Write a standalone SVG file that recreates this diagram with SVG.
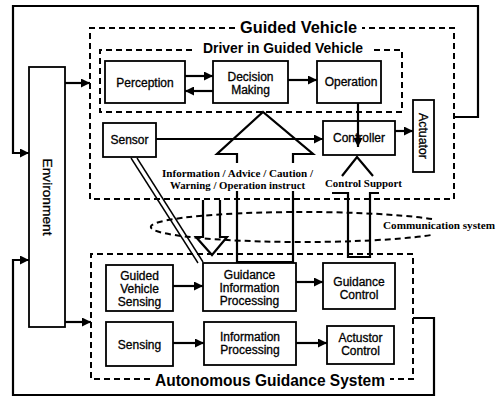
<svg xmlns="http://www.w3.org/2000/svg" width="501" height="397" viewBox="0 0 501 397">
<defs>
<marker id="ah" markerUnits="userSpaceOnUse" markerWidth="10" markerHeight="9" refX="9" refY="4.5" orient="auto">
<path d="M0,0 L9,4.5 L0,9 z" fill="#000"/>
</marker>
<style>
.box{fill:#fff;stroke:#000;stroke-width:1.8}
.dash{fill:none;stroke:#000;stroke-width:2;stroke-dasharray:6,4}
.ln{fill:none;stroke:#000;stroke-width:2.2}
.thin{fill:none;stroke:#000;stroke-width:1.4}
.lbl{font-family:"Liberation Sans",Arial,sans-serif;font-size:12px;text-anchor:middle;fill:#000;stroke:#000;stroke-width:0.3}
.ttl{font-family:"Liberation Sans",Arial,sans-serif;font-weight:bold;text-anchor:middle;fill:#000}
.sm{font-family:"Liberation Serif","Times New Roman",serif;font-weight:bold;font-size:11px;text-anchor:middle;fill:#000}
</style>
</defs>
<rect width="501" height="397" fill="#fff"/>

<g id="containers">
<g id="guided-vehicle">
<polyline class="dash" points="235,28 90,28 90,199 454,199 454,28 362,28"/>
<text class="ttl" x="298.5" y="33" font-size="16" textLength="117" lengthAdjust="spacingAndGlyphs">Guided Vehicle</text>
</g>
<g id="driver">
<polyline class="dash" points="192,50 100,50 100,112 402,112 402,50 370,50"/>
<text class="ttl" x="283" y="53" font-size="14" textLength="160" lengthAdjust="spacingAndGlyphs">Driver in Guided Vehicle</text>
</g>
<g id="autonomous-guidance-system">
<polyline class="dash" points="150,379 91,379 91,254 413,254 413,379 390,379"/>
<text class="ttl" x="270" y="386" font-size="17" textLength="230" lengthAdjust="spacingAndGlyphs">Autonomous Guidance System</text>
</g>
<g id="communication-system">
<path class="dash" d="M432,219.1 A152,15 0 1 0 432,234.9"/>
<text class="sm" x="439" y="229" textLength="112" lengthAdjust="spacingAndGlyphs">Communication system</text>
</g>
</g>

<g id="connectors">
<!-- outer feedback loops -->
<polyline class="ln" points="455,117 478,117 478,6 13,6 13,153 29,153" marker-end="url(#ah)"/>
<polyline class="ln" points="413,318 434,318 434,395 13,395 13,260 29,260" marker-end="url(#ah)"/>
<!-- environment outputs -->
<line class="ln" x1="65" y1="83" x2="90" y2="83" marker-end="url(#ah)"/>
<line class="ln" x1="65" y1="322" x2="91" y2="322" marker-end="url(#ah)"/>
<!-- driver internals -->
<line class="ln" x1="185" y1="76" x2="213" y2="76" marker-end="url(#ah)"/>
<line class="ln" x1="213" y1="91" x2="185" y2="91" marker-end="url(#ah)"/>
<line class="ln" x1="288" y1="80" x2="317" y2="80" marker-end="url(#ah)"/>
<line class="ln" x1="358" y1="103" x2="358" y2="147" marker-end="url(#ah)"/>
<line class="ln" x1="156" y1="139" x2="323" y2="139" marker-end="url(#ah)"/>
<line class="ln" x1="395" y1="131" x2="413" y2="131" marker-end="url(#ah)"/>
<!-- AGS internals -->
<line class="ln" x1="173" y1="286" x2="203" y2="286" marker-end="url(#ah)"/>
<line class="ln" x1="173" y1="343" x2="204" y2="343" marker-end="url(#ah)"/>
<line class="ln" x1="296" y1="282" x2="323" y2="282" marker-end="url(#ah)"/>
<line class="ln" x1="296" y1="343" x2="327" y2="343" marker-end="url(#ah)"/>
<!-- information hollow arrow to Decision Making -->
<polyline class="ln" points="237,163 237,154 217,154 263,112 313,154 293,154 293,163"/>
<polyline class="ln" points="237,191 237,262 293,262 293,191"/>
<!-- control support hollow arrow -->
<polyline class="ln" points="342,176 357,157 373,176"/>
<polyline class="ln" points="332,193 348,193 348,257 370,257 370,193 379,193"/>
<!-- hollow down arrow -->
<polyline class="ln" points="203,200 203,237 196,237 212,255 227,237 220,237 220,200"/>
<!-- sensor pointer -->
<line class="thin" x1="131" y1="158" x2="198" y2="263"/>
<line class="thin" x1="137" y1="158" x2="203" y2="262"/>
<text class="sm" x="237.5" y="177" textLength="151" lengthAdjust="spacingAndGlyphs">Information / Advice / Caution /</text>
<text class="sm" x="237.5" y="189" textLength="135" lengthAdjust="spacingAndGlyphs">Warning / Operation instruct</text>
<text class="sm" x="363.5" y="187" textLength="77" lengthAdjust="spacingAndGlyphs">Control Support</text>
</g>

<g id="environment">
<rect class="box" x="29" y="67" width="36" height="260"/>
<text class="lbl" transform="translate(43,197) rotate(90)" font-size="13" textLength="77" lengthAdjust="spacingAndGlyphs">Environment</text>
</g>
<g id="perception">
<rect class="box" x="105" y="61" width="80" height="42"/>
<text class="lbl" x="145" y="87">Perception</text>
</g>
<g id="decision-making">
<rect class="box" x="213" y="61" width="75" height="42"/>
<text class="lbl" x="250.5" y="81">Decision</text>
<text class="lbl" x="250.5" y="94">Making</text>
</g>
<g id="operation">
<rect class="box" x="317" y="61" width="64" height="42"/>
<text class="lbl" x="351" y="86">Operation</text>
</g>
<g id="sensor">
<rect class="box" x="103" y="123" width="53" height="34"/>
<text class="lbl" x="129.5" y="144">Sensor</text>
</g>
<g id="controller">
<rect class="box" x="323" y="121" width="72" height="34" fill-opacity="0"/>
<text class="lbl" x="359" y="142">Controller</text>
</g>
<g id="actuator">
<rect class="box" x="413" y="100" width="21" height="72"/>
<text class="lbl" transform="translate(419,136) rotate(90)" textLength="46" lengthAdjust="spacingAndGlyphs">Actuator</text>
</g>
<g id="guided-vehicle-sensing">
<rect class="box" x="106" y="265" width="67" height="46"/>
<text class="lbl" x="139.5" y="280">Guided</text>
<text class="lbl" x="139.5" y="293">Vehicle</text>
<text class="lbl" x="139.5" y="306">Sensing</text>
</g>
<g id="guidance-information-processing">
<rect class="box" x="203" y="263" width="93" height="48"/>
<text class="lbl" x="249.5" y="279">Guidance</text>
<text class="lbl" x="249.5" y="292">Information</text>
<text class="lbl" x="249.5" y="305">Processing</text>
</g>
<g id="guidance-control">
<rect class="box" x="323" y="263" width="72" height="46"/>
<text class="lbl" x="359" y="286">Guidance</text>
<text class="lbl" x="359" y="299">Control</text>
</g>
<g id="sensing">
<rect class="box" x="106" y="322" width="67" height="44"/>
<text class="lbl" x="139.5" y="349">Sensing</text>
</g>
<g id="information-processing">
<rect class="box" x="204" y="322" width="92" height="43"/>
<text class="lbl" x="250" y="341">Information</text>
<text class="lbl" x="250" y="354">Processing</text>
</g>
<g id="actustor-control">
<rect class="box" x="327" y="326" width="67" height="38"/>
<text class="lbl" x="360.5" y="342">Actustor</text>
<text class="lbl" x="360.5" y="355">Control</text>
</g>
</svg>
